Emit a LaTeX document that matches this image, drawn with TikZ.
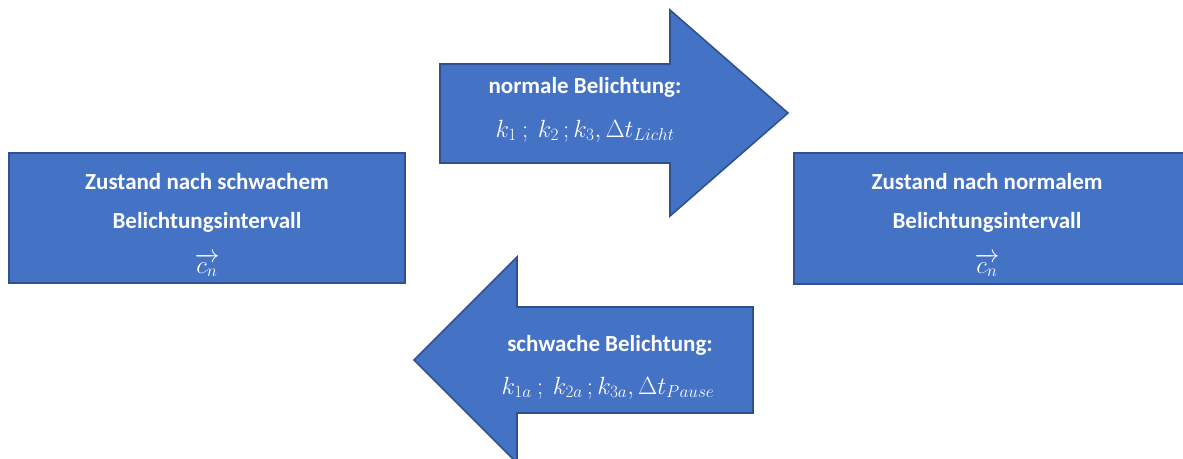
\documentclass[tikz,border=0pt]{standalone}
\usepackage{fontspec}
\setmainfont{Carlito}
\usepackage{amsmath}
\begin{document}
\begin{tikzpicture}[x=1pt,y=-1pt,
  shapefill/.style={fill=boxblue,draw=boxedge,line width=1.6pt,line join=miter},
  lbl/.style={text=white,font=\fontsize{23}{26}\selectfont\bfseries,inner sep=0pt,anchor=base},
  mlbl/.style={text=white,font=\fontsize{24}{26}\selectfont,inner sep=0pt,anchor=base}]
\definecolor{boxblue}{HTML}{4472C4}
\definecolor{boxedge}{HTML}{2F528F}
\useasboundingbox (0,0) rectangle (1183,458);
\clip (0,0) rectangle (1183,458);
% boxes
\draw[shapefill] (9,153) rectangle (405,283);
\draw[shapefill] (794,153) rectangle (1186,284);
% top arrow
\draw[shapefill] (440,64) -- (670,64) -- (670,10) -- (788,113) -- (670,216) -- (670,163) -- (440,163) -- cycle;
% bottom arrow
\draw[shapefill] (753,307) -- (517,307) -- (517,257) -- (414,360) -- (517,463) -- (517,413) -- (753,413) -- cycle;
% texts
\node[lbl] (l1) at (207,189) {Zustand nach schwachem};
\node[lbl] (l2) at (207,228) {Belichtungsintervall};
\node[mlbl] (l3) at (207,273) {$\overrightarrow{c_n}$};
\node[lbl] (r1) at (987,189) {Zustand nach normalem};
\node[lbl] (r2) at (987,228) {Belichtungsintervall};
\node[mlbl] (r3) at (987,273) {$\overrightarrow{c_n}$};
\node[lbl] (t1) at (585,93) {normale Belichtung:};
\node[mlbl] (t2) at (585,137) {$k_1\ ;\ k_2\,;k_3,\Delta t_{Licht}$};
\node[lbl] (b1) at (610,351) {schwache Belichtung:};
\node[mlbl] (b2) at (608,394) {$k_{1a}\ ;\ k_{2a}\,;k_{3a},\Delta t_{Pause}$};
\end{tikzpicture}
\end{document}
